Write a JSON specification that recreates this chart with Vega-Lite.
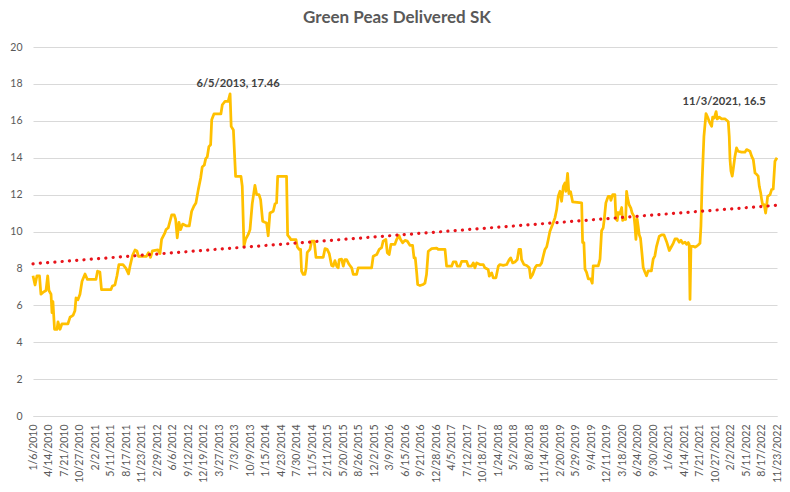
{
  "$schema": "https://vega.github.io/schema/vega-lite/v6.json",
  "title": {
    "text": "Green Peas Delivered SK",
    "anchor": "middle",
    "frame": "group",
    "dx": -8,
    "offset": 2,
    "baseline": "alphabetic",
    "font": "Lato",
    "fontSize": 17,
    "fontWeight": "bold",
    "color": "#595959"
  },
  "width": 744,
  "height": 369,
  "autosize": "none",
  "padding": {"left": 33, "top": 47, "right": 13, "bottom": 76},
  "background": "#ffffff",
  "view": {"stroke": null},
  "config": {
    "font": "Lato",
    "axis": {
      "labelFont": "Lato",
      "labelFontSize": 10.5,
      "labelColor": "#595959",
      "ticks": false,
      "title": null
    }
  },
  "datasets": {
    "peas": [
      {"date": "2010-01-06", "value": 7.6},
      {"date": "2010-01-19", "value": 7.1},
      {"date": "2010-01-31", "value": 7.6},
      {"date": "2010-02-16", "value": 7.6},
      {"date": "2010-02-25", "value": 6.6},
      {"date": "2010-03-10", "value": 6.7},
      {"date": "2010-03-29", "value": 6.8},
      {"date": "2010-04-09", "value": 7.6},
      {"date": "2010-04-17", "value": 6.8},
      {"date": "2010-04-30", "value": 6.6},
      {"date": "2010-05-06", "value": 5.6},
      {"date": "2010-05-12", "value": 6.2},
      {"date": "2010-05-22", "value": 4.7},
      {"date": "2010-06-07", "value": 4.7},
      {"date": "2010-06-13", "value": 5.1},
      {"date": "2010-06-26", "value": 4.7},
      {"date": "2010-07-08", "value": 5.0},
      {"date": "2010-08-15", "value": 5.0},
      {"date": "2010-08-28", "value": 5.35},
      {"date": "2010-09-16", "value": 5.45},
      {"date": "2010-09-28", "value": 5.7},
      {"date": "2010-10-05", "value": 6.4},
      {"date": "2010-10-17", "value": 6.3},
      {"date": "2010-10-30", "value": 6.6},
      {"date": "2010-11-12", "value": 7.3},
      {"date": "2010-12-01", "value": 7.7},
      {"date": "2010-12-16", "value": 7.4},
      {"date": "2011-02-08", "value": 7.4},
      {"date": "2011-02-18", "value": 7.85},
      {"date": "2011-03-05", "value": 7.8},
      {"date": "2011-03-15", "value": 6.85},
      {"date": "2011-05-14", "value": 6.85},
      {"date": "2011-05-23", "value": 7.05},
      {"date": "2011-06-08", "value": 7.1},
      {"date": "2011-06-21", "value": 7.6},
      {"date": "2011-07-03", "value": 8.2},
      {"date": "2011-07-29", "value": 8.2},
      {"date": "2011-08-17", "value": 8.0},
      {"date": "2011-09-02", "value": 7.7},
      {"date": "2011-09-11", "value": 8.1},
      {"date": "2011-09-27", "value": 8.7},
      {"date": "2011-10-13", "value": 9.0},
      {"date": "2011-10-25", "value": 8.95},
      {"date": "2011-11-04", "value": 8.65},
      {"date": "2011-12-24", "value": 8.65},
      {"date": "2012-01-06", "value": 8.85},
      {"date": "2012-01-19", "value": 8.6},
      {"date": "2012-01-31", "value": 8.95},
      {"date": "2012-03-06", "value": 9.0},
      {"date": "2012-03-19", "value": 8.8},
      {"date": "2012-03-29", "value": 9.57},
      {"date": "2012-04-19", "value": 9.93},
      {"date": "2012-04-26", "value": 10.1},
      {"date": "2012-05-10", "value": 10.2},
      {"date": "2012-06-01", "value": 10.9},
      {"date": "2012-06-17", "value": 10.9},
      {"date": "2012-06-26", "value": 10.65},
      {"date": "2012-07-06", "value": 9.66},
      {"date": "2012-07-17", "value": 10.5},
      {"date": "2012-07-27", "value": 10.1},
      {"date": "2012-08-09", "value": 10.4},
      {"date": "2012-09-03", "value": 10.3},
      {"date": "2012-09-20", "value": 10.3},
      {"date": "2012-10-05", "value": 11.1},
      {"date": "2012-10-21", "value": 11.4},
      {"date": "2012-11-01", "value": 11.55},
      {"date": "2012-11-16", "value": 12.27},
      {"date": "2012-12-01", "value": 12.9},
      {"date": "2012-12-11", "value": 13.5},
      {"date": "2012-12-24", "value": 13.6},
      {"date": "2013-01-02", "value": 13.95},
      {"date": "2013-01-12", "value": 14.05},
      {"date": "2013-01-22", "value": 14.6},
      {"date": "2013-02-02", "value": 14.7},
      {"date": "2013-02-09", "value": 16.06},
      {"date": "2013-02-23", "value": 16.37},
      {"date": "2013-04-08", "value": 16.37},
      {"date": "2013-04-17", "value": 16.87},
      {"date": "2013-05-04", "value": 17.05},
      {"date": "2013-05-24", "value": 17.05},
      {"date": "2013-06-05", "value": 17.46},
      {"date": "2013-06-12", "value": 15.7},
      {"date": "2013-06-26", "value": 15.5},
      {"date": "2013-07-10", "value": 12.99},
      {"date": "2013-08-13", "value": 12.99},
      {"date": "2013-08-21", "value": 12.45},
      {"date": "2013-09-01", "value": 9.2},
      {"date": "2013-09-11", "value": 9.57},
      {"date": "2013-09-28", "value": 9.84},
      {"date": "2013-10-09", "value": 10.1},
      {"date": "2013-10-23", "value": 11.5},
      {"date": "2013-11-09", "value": 12.5},
      {"date": "2013-11-20", "value": 12.0},
      {"date": "2013-12-05", "value": 12.0},
      {"date": "2013-12-15", "value": 11.73},
      {"date": "2013-12-28", "value": 10.56},
      {"date": "2014-01-11", "value": 10.5},
      {"date": "2014-01-22", "value": 10.46},
      {"date": "2014-02-01", "value": 9.77},
      {"date": "2014-02-12", "value": 11.0},
      {"date": "2014-03-05", "value": 11.1},
      {"date": "2014-03-16", "value": 11.5},
      {"date": "2014-03-26", "value": 11.55},
      {"date": "2014-04-02", "value": 12.99},
      {"date": "2014-05-28", "value": 12.99},
      {"date": "2014-06-04", "value": 9.8},
      {"date": "2014-06-14", "value": 9.7},
      {"date": "2014-06-25", "value": 9.56},
      {"date": "2014-07-27", "value": 9.56},
      {"date": "2014-08-04", "value": 9.17},
      {"date": "2014-08-16", "value": 9.03},
      {"date": "2014-08-25", "value": 9.03},
      {"date": "2014-08-31", "value": 7.85},
      {"date": "2014-09-11", "value": 7.67},
      {"date": "2014-09-21", "value": 7.67},
      {"date": "2014-09-28", "value": 7.98},
      {"date": "2014-10-06", "value": 8.87},
      {"date": "2014-10-23", "value": 9.03},
      {"date": "2014-11-03", "value": 9.48},
      {"date": "2014-11-19", "value": 9.48},
      {"date": "2014-11-30", "value": 8.6},
      {"date": "2015-01-15", "value": 8.6},
      {"date": "2015-01-26", "value": 9.07},
      {"date": "2015-02-09", "value": 9.03},
      {"date": "2015-02-22", "value": 8.8},
      {"date": "2015-03-09", "value": 8.16},
      {"date": "2015-03-19", "value": 8.12},
      {"date": "2015-03-30", "value": 8.42},
      {"date": "2015-04-10", "value": 8.12},
      {"date": "2015-04-20", "value": 8.03},
      {"date": "2015-04-26", "value": 8.48},
      {"date": "2015-05-11", "value": 8.5},
      {"date": "2015-05-22", "value": 8.12},
      {"date": "2015-06-01", "value": 8.48},
      {"date": "2015-06-12", "value": 8.48},
      {"date": "2015-06-28", "value": 8.21},
      {"date": "2015-07-14", "value": 8.03},
      {"date": "2015-07-24", "value": 7.67},
      {"date": "2015-08-14", "value": 7.67},
      {"date": "2015-08-24", "value": 8.03},
      {"date": "2015-11-17", "value": 8.03},
      {"date": "2015-11-27", "value": 8.66},
      {"date": "2015-12-19", "value": 8.75},
      {"date": "2016-01-04", "value": 9.03},
      {"date": "2016-01-19", "value": 9.12},
      {"date": "2016-01-29", "value": 9.48},
      {"date": "2016-02-15", "value": 9.57},
      {"date": "2016-02-24", "value": 8.85},
      {"date": "2016-03-07", "value": 8.75},
      {"date": "2016-03-18", "value": 9.3},
      {"date": "2016-04-12", "value": 9.3},
      {"date": "2016-04-23", "value": 9.57},
      {"date": "2016-05-08", "value": 9.78},
      {"date": "2016-05-18", "value": 9.57},
      {"date": "2016-05-31", "value": 9.39},
      {"date": "2016-06-15", "value": 9.52},
      {"date": "2016-06-29", "value": 9.48},
      {"date": "2016-07-16", "value": 9.25},
      {"date": "2016-08-02", "value": 9.25},
      {"date": "2016-08-11", "value": 8.57},
      {"date": "2016-08-19", "value": 8.57},
      {"date": "2016-08-28", "value": 7.76},
      {"date": "2016-09-03", "value": 7.13},
      {"date": "2016-09-18", "value": 7.07},
      {"date": "2016-10-08", "value": 7.13},
      {"date": "2016-10-19", "value": 7.2},
      {"date": "2016-10-29", "value": 7.67},
      {"date": "2016-11-09", "value": 8.93},
      {"date": "2016-12-01", "value": 9.07},
      {"date": "2017-01-01", "value": 9.1},
      {"date": "2017-01-11", "value": 9.03},
      {"date": "2017-02-23", "value": 9.03},
      {"date": "2017-03-05", "value": 8.12},
      {"date": "2017-04-06", "value": 8.12},
      {"date": "2017-04-16", "value": 8.35},
      {"date": "2017-05-03", "value": 8.35},
      {"date": "2017-05-11", "value": 8.12},
      {"date": "2017-05-28", "value": 8.12},
      {"date": "2017-06-08", "value": 8.38},
      {"date": "2017-07-10", "value": 8.38},
      {"date": "2017-07-20", "value": 8.12},
      {"date": "2017-08-10", "value": 8.12},
      {"date": "2017-08-21", "value": 8.3},
      {"date": "2017-08-31", "value": 8.03},
      {"date": "2017-09-11", "value": 8.3},
      {"date": "2017-10-02", "value": 8.21},
      {"date": "2017-10-23", "value": 8.21},
      {"date": "2017-11-02", "value": 8.03},
      {"date": "2017-11-23", "value": 7.94},
      {"date": "2017-11-30", "value": 7.58},
      {"date": "2017-12-15", "value": 7.76},
      {"date": "2017-12-25", "value": 7.49},
      {"date": "2018-01-11", "value": 7.49},
      {"date": "2018-01-26", "value": 8.12},
      {"date": "2018-02-05", "value": 8.21},
      {"date": "2018-02-26", "value": 8.16},
      {"date": "2018-03-20", "value": 8.21},
      {"date": "2018-04-05", "value": 8.48},
      {"date": "2018-04-14", "value": 8.57},
      {"date": "2018-04-27", "value": 8.3},
      {"date": "2018-05-11", "value": 8.35},
      {"date": "2018-05-26", "value": 8.48},
      {"date": "2018-06-05", "value": 9.03},
      {"date": "2018-06-16", "value": 9.03},
      {"date": "2018-06-22", "value": 8.48},
      {"date": "2018-07-07", "value": 8.21},
      {"date": "2018-07-24", "value": 8.16},
      {"date": "2018-08-10", "value": 8.03},
      {"date": "2018-08-18", "value": 7.49},
      {"date": "2018-08-31", "value": 7.67},
      {"date": "2018-09-15", "value": 8.03},
      {"date": "2018-09-25", "value": 8.16},
      {"date": "2018-10-16", "value": 8.16},
      {"date": "2018-10-27", "value": 8.3},
      {"date": "2018-11-06", "value": 8.66},
      {"date": "2018-11-17", "value": 9.03},
      {"date": "2018-11-28", "value": 9.17},
      {"date": "2018-12-08", "value": 9.57},
      {"date": "2018-12-18", "value": 10.0},
      {"date": "2019-01-04", "value": 10.38},
      {"date": "2019-01-19", "value": 10.74},
      {"date": "2019-01-30", "value": 11.19},
      {"date": "2019-02-09", "value": 11.91},
      {"date": "2019-02-20", "value": 12.18},
      {"date": "2019-03-02", "value": 11.64},
      {"date": "2019-03-13", "value": 12.45},
      {"date": "2019-03-23", "value": 12.63},
      {"date": "2019-03-29", "value": 12.18},
      {"date": "2019-04-09", "value": 13.15},
      {"date": "2019-04-17", "value": 12.05},
      {"date": "2019-04-28", "value": 12.15},
      {"date": "2019-05-11", "value": 11.6},
      {"date": "2019-07-07", "value": 11.55},
      {"date": "2019-07-13", "value": 9.4},
      {"date": "2019-07-21", "value": 9.4},
      {"date": "2019-07-28", "value": 7.96},
      {"date": "2019-08-07", "value": 7.78},
      {"date": "2019-08-18", "value": 7.43},
      {"date": "2019-09-02", "value": 7.43},
      {"date": "2019-09-12", "value": 7.2},
      {"date": "2019-09-18", "value": 8.14},
      {"date": "2019-10-20", "value": 8.14},
      {"date": "2019-10-31", "value": 8.5},
      {"date": "2019-11-10", "value": 10.04},
      {"date": "2019-11-20", "value": 10.2},
      {"date": "2019-11-27", "value": 10.67},
      {"date": "2019-12-07", "value": 11.55},
      {"date": "2019-12-22", "value": 11.91},
      {"date": "2020-01-02", "value": 11.91},
      {"date": "2020-01-08", "value": 11.69},
      {"date": "2020-01-19", "value": 12.0},
      {"date": "2020-02-02", "value": 12.0},
      {"date": "2020-02-09", "value": 10.67},
      {"date": "2020-02-17", "value": 10.6},
      {"date": "2020-02-23", "value": 11.03},
      {"date": "2020-03-05", "value": 10.95},
      {"date": "2020-03-16", "value": 11.3},
      {"date": "2020-03-22", "value": 10.6},
      {"date": "2020-04-01", "value": 10.67},
      {"date": "2020-04-10", "value": 10.65},
      {"date": "2020-04-16", "value": 12.18},
      {"date": "2020-04-22", "value": 11.82},
      {"date": "2020-05-02", "value": 11.45},
      {"date": "2020-05-13", "value": 11.27},
      {"date": "2020-05-21", "value": 11.0},
      {"date": "2020-06-02", "value": 10.82},
      {"date": "2020-06-08", "value": 10.3},
      {"date": "2020-06-14", "value": 9.57},
      {"date": "2020-06-22", "value": 10.67},
      {"date": "2020-06-28", "value": 10.3},
      {"date": "2020-07-05", "value": 9.82},
      {"date": "2020-07-13", "value": 9.64},
      {"date": "2020-07-23", "value": 8.74},
      {"date": "2020-07-30", "value": 8.05},
      {"date": "2020-08-09", "value": 7.82},
      {"date": "2020-08-20", "value": 7.6},
      {"date": "2020-08-30", "value": 7.87},
      {"date": "2020-09-20", "value": 7.87},
      {"date": "2020-10-01", "value": 8.5},
      {"date": "2020-10-12", "value": 8.68},
      {"date": "2020-10-22", "value": 9.18},
      {"date": "2020-11-08", "value": 9.73},
      {"date": "2020-11-23", "value": 9.82},
      {"date": "2020-12-08", "value": 9.82},
      {"date": "2020-12-25", "value": 9.45},
      {"date": "2021-01-11", "value": 8.97},
      {"date": "2021-01-26", "value": 9.2},
      {"date": "2021-02-05", "value": 9.36},
      {"date": "2021-02-16", "value": 9.6},
      {"date": "2021-03-02", "value": 9.6},
      {"date": "2021-03-15", "value": 9.42},
      {"date": "2021-03-26", "value": 9.53},
      {"date": "2021-04-06", "value": 9.36},
      {"date": "2021-04-20", "value": 9.42},
      {"date": "2021-05-01", "value": 9.3},
      {"date": "2021-05-11", "value": 9.4},
      {"date": "2021-05-17", "value": 9.3},
      {"date": "2021-05-22", "value": 6.32},
      {"date": "2021-05-28", "value": 9.2},
      {"date": "2021-06-12", "value": 9.2},
      {"date": "2021-06-22", "value": 9.15},
      {"date": "2021-07-03", "value": 9.2},
      {"date": "2021-07-13", "value": 9.27},
      {"date": "2021-07-24", "value": 9.36},
      {"date": "2021-07-30", "value": 10.27},
      {"date": "2021-08-07", "value": 12.81},
      {"date": "2021-08-18", "value": 15.16},
      {"date": "2021-08-31", "value": 16.39},
      {"date": "2021-09-10", "value": 16.2},
      {"date": "2021-09-25", "value": 15.87},
      {"date": "2021-10-06", "value": 15.7},
      {"date": "2021-10-12", "value": 16.2},
      {"date": "2021-10-22", "value": 16.15},
      {"date": "2021-11-03", "value": 16.5},
      {"date": "2021-11-10", "value": 16.1},
      {"date": "2021-11-23", "value": 16.2},
      {"date": "2021-12-08", "value": 16.1},
      {"date": "2021-12-29", "value": 16.1},
      {"date": "2022-01-09", "value": 16.03},
      {"date": "2022-01-19", "value": 15.95},
      {"date": "2022-01-25", "value": 15.16},
      {"date": "2022-01-30", "value": 13.9},
      {"date": "2022-02-05", "value": 13.27},
      {"date": "2022-02-13", "value": 13.0},
      {"date": "2022-02-19", "value": 13.36},
      {"date": "2022-03-02", "value": 14.07},
      {"date": "2022-03-12", "value": 14.53},
      {"date": "2022-03-22", "value": 14.35},
      {"date": "2022-04-13", "value": 14.3},
      {"date": "2022-05-04", "value": 14.3},
      {"date": "2022-05-15", "value": 14.44},
      {"date": "2022-06-05", "value": 14.35},
      {"date": "2022-06-16", "value": 14.07},
      {"date": "2022-06-26", "value": 13.9},
      {"date": "2022-07-07", "value": 13.17},
      {"date": "2022-07-17", "value": 13.1},
      {"date": "2022-07-27", "value": 13.0},
      {"date": "2022-08-03", "value": 12.45},
      {"date": "2022-08-12", "value": 12.09},
      {"date": "2022-08-18", "value": 11.73},
      {"date": "2022-08-24", "value": 11.46},
      {"date": "2022-09-03", "value": 11.46},
      {"date": "2022-09-12", "value": 11.0},
      {"date": "2022-09-19", "value": 11.46},
      {"date": "2022-09-25", "value": 11.91},
      {"date": "2022-10-10", "value": 12.0},
      {"date": "2022-10-20", "value": 12.27},
      {"date": "2022-10-30", "value": 12.3},
      {"date": "2022-11-10", "value": 13.81},
      {"date": "2022-11-23", "value": 14.0}
    ],
    "trend": [
      {"date": "2010-01-06", "value": 8.25},
      {"date": "2022-11-23", "value": 11.42}
    ],
    "peaks": [
      {"date": "2013-06-05", "value": 17.46, "label": "6/5/2013, 17.46"},
      {"date": "2021-11-03", "value": 16.5, "label": "11/3/2021, 16.5"}
    ]
  },
  "encoding": {
    "x": {
      "field": "date",
      "type": "temporal",
      "scale": {
        "type": "utc",
        "nice": false,
        "domain": [
          {"year": 2010, "month": 1, "date": 6, "utc": true},
          {"year": 2022, "month": 11, "date": 23, "utc": true}
        ]
      },
      "axis": {
        "grid": false,
        "domain": true,
        "domainColor": "#d9d9d9",
        "domainWidth": 1,
        "labelAngle": 270,
        "labelPadding": 8,
        "labelExpr": "utcFormat(datum.value, '%-m/%-d/%Y')",
        "labelOverlap": false,
        "values": [
          {"year": 2010, "month": 1, "date": 6, "utc": true},
          {"year": 2010, "month": 4, "date": 14, "utc": true},
          {"year": 2010, "month": 7, "date": 21, "utc": true},
          {"year": 2010, "month": 10, "date": 27, "utc": true},
          {"year": 2011, "month": 2, "date": 2, "utc": true},
          {"year": 2011, "month": 5, "date": 11, "utc": true},
          {"year": 2011, "month": 8, "date": 17, "utc": true},
          {"year": 2011, "month": 11, "date": 23, "utc": true},
          {"year": 2012, "month": 2, "date": 29, "utc": true},
          {"year": 2012, "month": 6, "date": 6, "utc": true},
          {"year": 2012, "month": 9, "date": 12, "utc": true},
          {"year": 2012, "month": 12, "date": 19, "utc": true},
          {"year": 2013, "month": 3, "date": 27, "utc": true},
          {"year": 2013, "month": 7, "date": 3, "utc": true},
          {"year": 2013, "month": 10, "date": 9, "utc": true},
          {"year": 2014, "month": 1, "date": 15, "utc": true},
          {"year": 2014, "month": 4, "date": 23, "utc": true},
          {"year": 2014, "month": 7, "date": 30, "utc": true},
          {"year": 2014, "month": 11, "date": 5, "utc": true},
          {"year": 2015, "month": 2, "date": 11, "utc": true},
          {"year": 2015, "month": 5, "date": 20, "utc": true},
          {"year": 2015, "month": 8, "date": 26, "utc": true},
          {"year": 2015, "month": 12, "date": 2, "utc": true},
          {"year": 2016, "month": 3, "date": 9, "utc": true},
          {"year": 2016, "month": 6, "date": 15, "utc": true},
          {"year": 2016, "month": 9, "date": 21, "utc": true},
          {"year": 2016, "month": 12, "date": 28, "utc": true},
          {"year": 2017, "month": 4, "date": 5, "utc": true},
          {"year": 2017, "month": 7, "date": 12, "utc": true},
          {"year": 2017, "month": 10, "date": 18, "utc": true},
          {"year": 2018, "month": 1, "date": 24, "utc": true},
          {"year": 2018, "month": 5, "date": 2, "utc": true},
          {"year": 2018, "month": 8, "date": 8, "utc": true},
          {"year": 2018, "month": 11, "date": 14, "utc": true},
          {"year": 2019, "month": 2, "date": 20, "utc": true},
          {"year": 2019, "month": 5, "date": 29, "utc": true},
          {"year": 2019, "month": 9, "date": 4, "utc": true},
          {"year": 2019, "month": 12, "date": 11, "utc": true},
          {"year": 2020, "month": 3, "date": 18, "utc": true},
          {"year": 2020, "month": 6, "date": 24, "utc": true},
          {"year": 2020, "month": 9, "date": 30, "utc": true},
          {"year": 2021, "month": 1, "date": 6, "utc": true},
          {"year": 2021, "month": 4, "date": 14, "utc": true},
          {"year": 2021, "month": 7, "date": 21, "utc": true},
          {"year": 2021, "month": 10, "date": 27, "utc": true},
          {"year": 2022, "month": 2, "date": 2, "utc": true},
          {"year": 2022, "month": 5, "date": 11, "utc": true},
          {"year": 2022, "month": 8, "date": 17, "utc": true},
          {"year": 2022, "month": 11, "date": 23, "utc": true}
        ]
      }
    },
    "y": {
      "field": "value",
      "type": "quantitative",
      "scale": {"domain": [0, 20], "nice": false},
      "axis": {
        "values": [0, 2, 4, 6, 8, 10, 12, 14, 16, 18, 20],
        "grid": true,
        "gridColor": "#d9d9d9",
        "gridWidth": 1,
        "domain": false,
        "labelPadding": 11
      }
    }
  },
  "layer": [
    {
      "data": {"name": "peas"},
      "mark": {
        "type": "line",
        "color": "#ffc000",
        "strokeWidth": 2.75,
        "strokeJoin": "round"
      }
    },
    {
      "data": {"name": "trend"},
      "mark": {
        "type": "line",
        "color": "#e8141b",
        "strokeWidth": 3.2,
        "strokeCap": "round",
        "strokeDash": [0.1, 7.2]
      }
    },
    {
      "data": {"name": "peaks"},
      "mark": {
        "type": "text",
        "font": "Lato",
        "fontSize": 11.2,
        "fontWeight": "bold",
        "color": "#404040",
        "dx": 8,
        "dy": -10,
        "baseline": "middle"
      },
      "encoding": {
        "text": {"field": "label"}
      }
    }
  ]
}
